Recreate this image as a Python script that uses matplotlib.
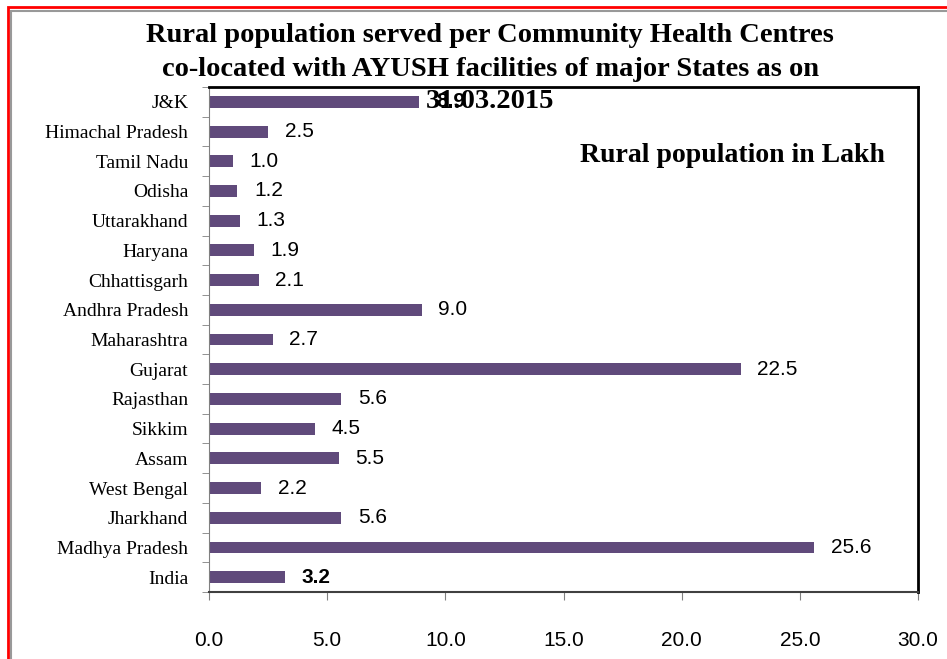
import matplotlib.pyplot as plt
from matplotlib.patches import Rectangle

states = ["J&K", "Himachal Pradesh", "Tamil Nadu", "Odisha", "Uttarakhand",
          "Haryana", "Chhattisgarh", "Andhra Pradesh", "Maharashtra", "Gujarat",
          "Rajasthan", "Sikkim", "Assam", "West Bengal", "Jharkhand",
          "Madhya Pradesh", "India"]
population = [8.9, 2.5, 1.0, 1.2, 1.3, 1.9, 2.1, 9.0, 2.7, 22.5,
              5.6, 4.5, 5.5, 2.2, 5.6, 25.6, 3.2]
bold_labels = ["J&K", "India"]

BAR_COLOR = "#604a7b"
SERIF = ["Liberation Serif", "DejaVu Serif"]
SANS = ["Liberation Sans", "DejaVu Sans"]

fig = plt.figure(figsize=(9.47, 6.59), dpi=100)
W, H = 947, 659

# red outer frame (runs off the right and bottom edges)
fig.patches.append(Rectangle((7.5 / W, -0.1), 1.2, 1 - 6.5 / H + 0.1,
                             transform=fig.transFigure, fill=False,
                             edgecolor="red", linewidth=2))
fig.patches.append(Rectangle((10.5 / W, -0.1), 1.2, 1 - 10.5 / H + 0.1,
                             transform=fig.transFigure, fill=False,
                             edgecolor="#999999", linewidth=1.5))

ax = fig.add_axes([209 / W, 1 - 592 / H, (918 - 209) / W, (592 - 87) / H])

ypos = list(range(len(states)))
ax.barh(ypos, population, height=0.4, color=BAR_COLOR)
ax.set_ylim(len(states) - 0.5, -0.5)
ax.set_xlim(0, 30)

ax.set_yticks(ypos)
ax.set_yticklabels(states, family=SERIF, fontsize=14)
ax.set_yticks([y + 0.5 for y in range(-1, len(states))], minor=True)
ax.tick_params(axis="y", which="major", length=0, pad=15)
ax.tick_params(axis="y", which="minor", length=5, color="#808080")

ax.set_xticks(range(0, 31, 5))
ax.set_xticklabels([f"{v:.1f}" for v in range(0, 31, 5)], family=SANS,
                   fontsize=15)
ax.tick_params(axis="x", length=6, color="#808080", pad=22)

for side in ["top", "right"]:
    ax.spines[side].set_linewidth(2)
    ax.spines[side].set_color("black")
ax.spines["left"].set_color("#808080")
ax.spines["bottom"].set_color("#404040")
ax.spines["bottom"].set_linewidth(1.5)

for y, v, s in zip(ypos, population, states):
    ax.text(v + 0.7, y, f"{v:.1f}", va="center", ha="left", family=SANS,
            fontsize=15, fontweight="bold" if s in bold_labels else "normal")

title_lines = ["Rural population served per Community Health Centres",
               "co-located with AYUSH facilities of major States as on",
               "31.03.2015"]
for line, ypix in zip(title_lines, [35, 69, 102]):
    fig.text(490 / W, 1 - ypix / H, line, ha="center", va="center",
             family=SERIF, fontweight="bold", fontsize=20.5)

ax.text(0.953, 0.865, "Rural population in Lakh", transform=ax.transAxes,
        ha="right", va="center", family=SERIF, fontweight="bold", fontsize=20)

fig.savefig("out.png", dpi=100)
